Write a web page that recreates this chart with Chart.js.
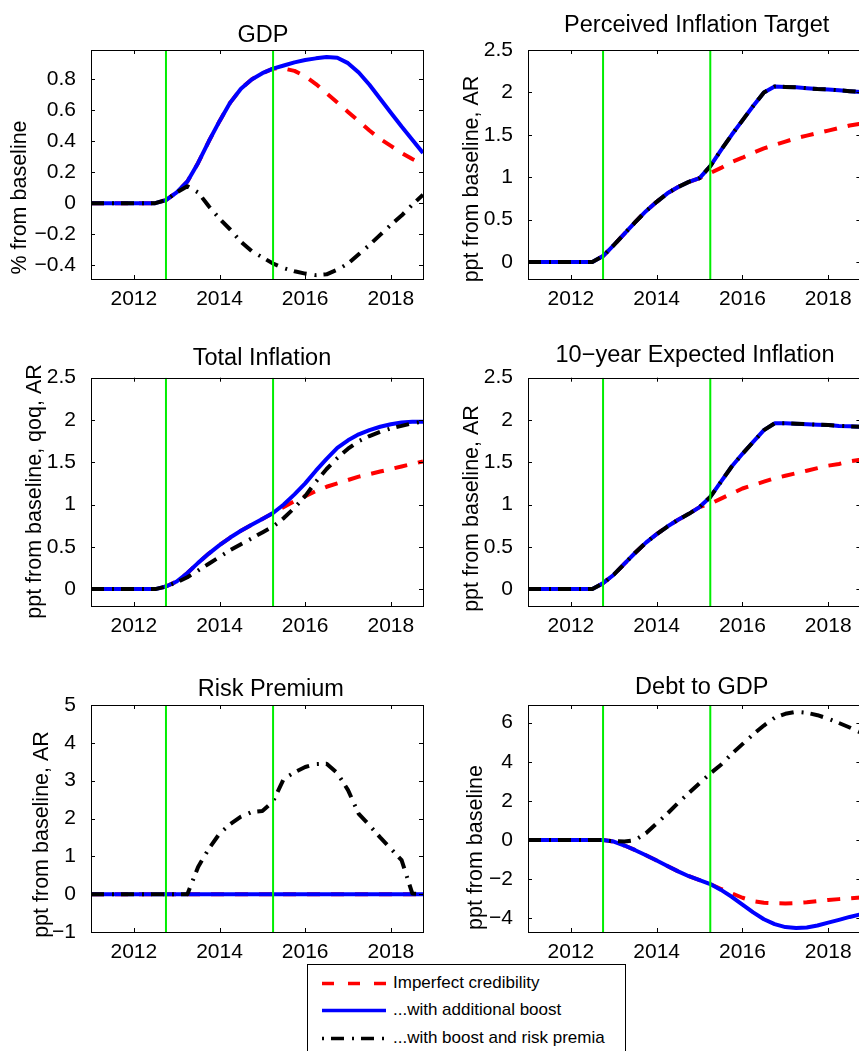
<!DOCTYPE html>
<html>
<head>
<meta charset="utf-8">
<title>Credibility scenarios</title>
<script src="https://cdn.jsdelivr.net/npm/chart.js@4.4.1/dist/chart.umd.min.js"></script>
<style>
    html, body { margin: 0; padding: 0; background: #fff; }
    body { width: 859px; height: 1051px; position: relative; overflow: hidden; font-family: "Liberation Sans", Arial, sans-serif; }
    canvas.panel { position: absolute; }
    #legend { position: absolute; left: 307px; top: 964px; width: 319px; height: 100px; box-sizing: border-box; border: 1px solid #000; background: #fff; }
    #legend .item { position: absolute; left: 13px; height: 20px; line-height: 20px; font-size: 17px; color: #000; white-space: nowrap; }
    #legend svg { position: absolute; left: 0; top: 8px; }
    #legend span { position: absolute; left: 72px; top: 0; }
</style>
</head>
<body>

<canvas class="panel" id="gdp"></canvas>
<canvas class="panel" id="target"></canvas>
<canvas class="panel" id="inflation"></canvas>
<canvas class="panel" id="expected"></canvas>
<canvas class="panel" id="risk"></canvas>
<canvas class="panel" id="debt"></canvas>

<div id="legend">
    <div class="item" style="top:8px">
        <svg width="66" height="5"><line x1="1" y1="2.5" x2="65" y2="2.5" stroke="#ff0000" stroke-width="3.5" stroke-dasharray="12 14"/></svg>
        <span>Imperfect credibility</span>
    </div>
    <div class="item" style="top:35px">
        <svg width="66" height="5"><line x1="1" y1="2.5" x2="65" y2="2.5" stroke="#0000ff" stroke-width="3.5"/></svg>
        <span>...with additional boost</span>
    </div>
    <div class="item" style="top:63px">
        <svg width="66" height="5"><line x1="1" y1="2.5" x2="65" y2="2.5" stroke="#000" stroke-width="3.5" stroke-dasharray="2 7 13 8"/></svg>
        <span>...with boost and risk premia</span>
    </div>
</div>

<script>
// ---- data (quarterly) ----
const quarters = [2011, 2011.25, 2011.5, 2011.75, 2012, 2012.25, 2012.5, 2012.75,
    2013, 2013.25, 2013.5, 2013.75, 2014, 2014.25, 2014.5, 2014.75,
    2015, 2015.25, 2015.5, 2015.75, 2016, 2016.25, 2016.5, 2016.75,
    2017, 2017.25, 2017.5, 2017.75, 2018, 2018.25, 2018.5, 2018.75];
const yearTicks = [2012, 2014, 2016, 2018];
const eventDates = [2012.75, 2015.25];
const seriesNames = ['Imperfect credibility', '...with additional boost', '...with boost and risk premia'];

// GDP, % from baseline
const gdpImperfect = [0, 0, 0, 0, 0, 0, 0, 0.02, 0.07, 0.14, 0.26, 0.40, 0.53, 0.65, 0.74, 0.80,
    0.84, 0.87, 0.87, 0.855, 0.82, 0.77, 0.71, 0.65, 0.59, 0.53, 0.47, 0.415, 0.37, 0.325, 0.285, 0.25];
const gdpBoost = [0, 0, 0, 0, 0, 0, 0, 0.02, 0.07, 0.14, 0.26, 0.40, 0.53, 0.65, 0.74, 0.80,
    0.84, 0.87, 0.89, 0.91, 0.925, 0.936, 0.945, 0.94, 0.905, 0.845, 0.765, 0.675, 0.585, 0.495, 0.41, 0.325];
const gdpRisk = [0, 0, 0, 0, 0, 0, 0, 0.02, 0.07, 0.11, 0.07, -0.02, -0.10, -0.17, -0.25, -0.31,
    -0.35, -0.39, -0.42, -0.44, -0.455, -0.465, -0.46, -0.43, -0.39, -0.33, -0.27, -0.205, -0.14, -0.08, -0.01, 0.055];

// Perceived inflation target
const targetImperfect = [0, 0, 0, 0, 0, 0, 0, 0.07, 0.20, 0.335, 0.47, 0.60, 0.71, 0.81, 0.885, 0.945,
    0.99, 1.05, 1.11, 1.18, 1.23, 1.29, 1.34, 1.38, 1.42, 1.46, 1.49, 1.52, 1.55, 1.58, 1.61, 1.63];
const targetBoost = [0, 0, 0, 0, 0, 0, 0, 0.07, 0.20, 0.335, 0.47, 0.60, 0.71, 0.81, 0.885, 0.945,
    0.99, 1.13, 1.32, 1.50, 1.67, 1.84, 2.0, 2.07, 2.065, 2.06, 2.05, 2.04, 2.035, 2.025, 2.015, 2.005];
const targetRisk = [0, 0, 0, 0, 0, 0, 0, 0.07, 0.20, 0.335, 0.47, 0.60, 0.71, 0.81, 0.885, 0.945,
    0.99, 1.13, 1.32, 1.50, 1.67, 1.84, 2.0, 2.07, 2.065, 2.06, 2.05, 2.04, 2.035, 2.025, 2.015, 2.005];

// Total inflation, qoq AR
const inflImperfect = [0, 0, 0, 0, 0, 0, 0, 0.03, 0.09, 0.19, 0.31, 0.42, 0.52, 0.61, 0.69, 0.76,
    0.83, 0.90, 0.97, 1.04, 1.10, 1.16, 1.21, 1.25, 1.29, 1.33, 1.36, 1.39, 1.42, 1.45, 1.48, 1.51];
const inflBoost = [0, 0, 0, 0, 0, 0, 0, 0.03, 0.09, 0.19, 0.31, 0.42, 0.52, 0.61, 0.69, 0.76,
    0.83, 0.90, 1.00, 1.12, 1.25, 1.40, 1.54, 1.67, 1.76, 1.83, 1.88, 1.92, 1.95, 1.97, 1.98, 1.98];
const inflRisk = [0, 0, 0, 0, 0, 0, 0, 0.03, 0.08, 0.14, 0.22, 0.30, 0.38, 0.46, 0.53, 0.60,
    0.67, 0.74, 0.84, 0.96, 1.10, 1.27, 1.42, 1.55, 1.66, 1.75, 1.81, 1.86, 1.90, 1.93, 1.96, 1.98];

// 10-year expected inflation
const expImperfect = [0, 0, 0, 0, 0, 0, 0, 0.07, 0.17, 0.30, 0.43, 0.55, 0.65, 0.74, 0.82, 0.89,
    0.97, 1.01, 1.07, 1.13, 1.19, 1.23, 1.27, 1.31, 1.34, 1.37, 1.40, 1.43, 1.46, 1.48, 1.51, 1.53];
const expBoost = [0, 0, 0, 0, 0, 0, 0, 0.07, 0.17, 0.30, 0.43, 0.55, 0.65, 0.74, 0.82, 0.89,
    0.97, 1.09, 1.27, 1.45, 1.60, 1.74, 1.88, 1.96, 1.96, 1.955, 1.95, 1.945, 1.94, 1.93, 1.925, 1.92];
const expRisk = [0, 0, 0, 0, 0, 0, 0, 0.07, 0.17, 0.30, 0.43, 0.55, 0.65, 0.74, 0.82, 0.89,
    0.97, 1.09, 1.27, 1.45, 1.60, 1.74, 1.88, 1.96, 1.96, 1.955, 1.95, 1.945, 1.94, 1.93, 1.925, 1.92];

// Risk premium
const riskImperfect = [0, 0, 0, 0, 0, 0, 0, 0, 0, 0, 0, 0, 0, 0, 0, 0,
    0, 0, 0, 0, 0, 0, 0, 0, 0, 0, 0, 0, 0, 0, 0, 0];
const riskBoost = [0, 0, 0, 0, 0, 0, 0, 0, 0, 0, 0, 0, 0, 0, 0, 0,
    0, 0, 0, 0, 0, 0, 0, 0, 0, 0, 0, 0, 0, 0, 0, 0];
const riskRisk = [0, 0, 0, 0, 0, 0, 0, 0, 0, 0, 0.72, 1.2, 1.6, 1.85, 2.05, 2.17,
    2.2, 2.45, 3.05, 3.22, 3.36, 3.44, 3.45, 3.2, 2.75, 2.12, 1.82, 1.5, 1.2, 0.9, 0.02, 0];

// Debt to GDP
const debtImperfect = [0, 0, 0, 0, 0, 0, 0, 0, -0.08, -0.28, -0.52, -0.78, -1.05, -1.33, -1.6, -1.85,
    -2.05, -2.25, -2.5, -2.72, -2.95, -3.12, -3.2, -3.23, -3.24, -3.22, -3.18, -3.12, -3.06, -3.02, -2.98, -2.94];
const debtBoost = [0, 0, 0, 0, 0, 0, 0, 0, -0.08, -0.28, -0.52, -0.78, -1.05, -1.33, -1.6, -1.85,
    -2.05, -2.25, -2.55, -2.9, -3.3, -3.7, -4.05, -4.3, -4.45, -4.5, -4.47, -4.37, -4.22, -4.08, -3.93, -3.8];
const debtRisk = [0, 0, 0, 0, 0, 0, 0, 0, -0.06, -0.08, 0.0, 0.35, 0.85, 1.35, 1.9, 2.4,
    2.9, 3.4, 3.85, 4.4, 4.9, 5.4, 5.85, 6.25, 6.45, 6.55, 6.5, 6.38, 6.2, 5.98, 5.75, 5.5];

// y axes
const gdpTicks = [-0.4, -0.2, 0, 0.2, 0.4, 0.6, 0.8];
const inflTicks = [0, 0.5, 1, 1.5, 2, 2.5];
const riskTicks = [-1, 0, 1, 2, 3, 4, 5];
const debtTicks = [-4, -2, 0, 2, 4, 6];

const panels = [
    { id: 'gdp', title: 'GDP', ylabel: '% from baseline', min: -0.49, max: 0.99, ticks: gdpTicks,
      series: [gdpImperfect, gdpBoost, gdpRisk] },
    { id: 'target', title: 'Perceived Inflation Target', ylabel: 'ppt from baseline, AR', min: -0.2, max: 2.5, ticks: inflTicks,
      series: [targetImperfect, targetBoost, targetRisk] },
    { id: 'inflation', title: 'Total Inflation', ylabel: 'ppt from baseline, qoq, AR', min: -0.2, max: 2.5, ticks: inflTicks,
      series: [inflImperfect, inflBoost, inflRisk] },
    { id: 'expected', title: '10\u2212year Expected Inflation', ylabel: 'ppt from baseline, AR', min: -0.2, max: 2.5, ticks: inflTicks,
      series: [expImperfect, expBoost, expRisk] },
    { id: 'risk', title: 'Risk Premium', ylabel: 'ppt from baseline, AR', min: -1, max: 5, ticks: riskTicks,
      series: [riskImperfect, riskBoost, riskRisk] },
    { id: 'debt', title: 'Debt to GDP', ylabel: 'ppt from baseline', min: -4.7, max: 6.9, ticks: debtTicks,
      series: [debtImperfect, debtBoost, debtRisk] }
];

// ---- layout (page pixels) ----
const cols = [
    { x: 0, w: 430, plotLeft: 91, plotRight: 423 },
    { x: 430, w: 440, plotLeft: 98, plotRight: 430.4 }
];
const rows = [
    { y: 0, h: 320, plotTop: 50, plotBottom: 279 },
    { y: 320, h: 330, plotTop: 57.7, plotBottom: 286 },
    { y: 660, h: 320, plotTop: 45, plotBottom: 272 }
];
// title baseline + ylabel centre, page coords
const labelPos = {
    gdp:       { tx: 263,   ty: 41.5,  lx: 20.5,  ly: 197.5 },
    target:    { tx: 696.7, ty: 31.5,  lx: 472.5, ly: 179 },
    inflation: { tx: 262,   ty: 365,   lx: 35,    ly: 491.5 },
    expected:  { tx: 695,   ty: 361.5, lx: 472.5, ly: 508.5 },
    risk:      { tx: 270.8, ty: 696,   lx: 41.7,  ly: 834.5 },
    debt:      { tx: 701.7, ty: 694,   lx: 476,   ly: 847.5 }
};

const FONT = '"Liberation Sans", Arial, sans-serif';
const styles = [
    { color: '#ff0000', dash: [13, 11], order: 3 },
    { color: '#0000ff', dash: [], order: 2 },
    { color: '#000000', dash: [13, 8, 2, 7], order: 1 }
];

function fmtTick(v) {
    const s = String(Math.round(v * 100) / 100);
    return s.replace('-', '\u2212');
}

// MATLAB-ish box, inward ticks, title and rotated y label
const matlabAxes = {
    id: 'matlabAxes',
    afterDatasetsDraw(chart, args, opts) {
        const { ctx, chartArea: a, scales } = chart;
        ctx.save();
        ctx.strokeStyle = '#000';
        ctx.lineWidth = 1;
        ctx.beginPath();
        scales.x.ticks.forEach(t => {
            const px = Math.round(scales.x.getPixelForValue(t.value)) + 0.5;
            ctx.moveTo(px, a.bottom); ctx.lineTo(px, a.bottom - 4);
            ctx.moveTo(px, a.top); ctx.lineTo(px, a.top + 4);
        });
        scales.y.ticks.forEach(t => {
            const py = Math.round(scales.y.getPixelForValue(t.value)) + 0.5;
            ctx.moveTo(a.left, py); ctx.lineTo(a.left + 4, py);
            ctx.moveTo(a.right, py); ctx.lineTo(a.right - 4, py);
        });
        ctx.stroke();
        ctx.strokeRect(Math.round(a.left) + 0.5, Math.round(a.top) + 0.5,
            Math.round(a.right - a.left), Math.round(a.bottom - a.top));
        ctx.restore();
    },
    afterDraw(chart, args, opts) {
        const ctx = chart.ctx;
        ctx.save();
        ctx.fillStyle = '#000';
        ctx.font = '23.5px ' + FONT;
        ctx.textAlign = 'center';
        ctx.textBaseline = 'alphabetic';
        ctx.fillText(opts.title, opts.tx, opts.ty);

        ctx.font = '21.5px ' + FONT;
        ctx.translate(opts.lx, opts.ly);
        ctx.rotate(-Math.PI / 2);
        ctx.textBaseline = 'middle';
        ctx.fillText(opts.ylabel, 0, 0);
        ctx.restore();
    }
};

panels.forEach((p, i) => {
    const col = cols[i % 2];
    const row = rows[Math.floor(i / 2)];
    const pos = labelPos[p.id];
    const canvas = document.getElementById(p.id);
    canvas.width = col.w;
    canvas.height = row.h;
    canvas.style.left = col.x + 'px';
    canvas.style.top = row.y + 'px';

    const datasets = p.series.map((values, k) => ({
        label: seriesNames[k],
        data: quarters.map((q, j) => ({ x: q, y: values[j] })),
        borderColor: styles[k].color,
        borderWidth: 4,
        borderDash: styles[k].dash,
        borderCapStyle: 'butt',
        borderJoinStyle: 'round',
        pointRadius: 0,
        tension: 0,
        fill: false,
        order: styles[k].order
    }));
    eventDates.forEach(d => {
        datasets.push({
            label: 'event',
            data: [{ x: d, y: p.min }, { x: d, y: p.max }],
            borderColor: '#00ee00',
            borderWidth: 2,
            pointRadius: 0,
            fill: false,
            order: 0
        });
    });

    new Chart(canvas, {
        type: 'line',
        data: { datasets: datasets },
        plugins: [matlabAxes],
        options: {
            responsive: false,
            animation: false,
            events: [],
            devicePixelRatio: 1,
            layout: { padding: { top: row.plotTop, right: col.w - col.plotRight, bottom: 0, left: 0 } },
            plugins: {
                legend: { display: false },
                tooltip: { enabled: false },
                matlabAxes: {
                    title: p.title, ylabel: p.ylabel,
                    tx: pos.tx - col.x, ty: pos.ty - row.y,
                    lx: pos.lx - col.x, ly: pos.ly - row.y
                }
            },
            scales: {
                x: {
                    type: 'linear',
                    min: 2011,
                    max: 2018.75,
                    grid: { display: false },
                    border: { display: false },
                    afterBuildTicks: s => { s.ticks = yearTicks.map(v => ({ value: v })); },
                    afterFit: s => { s.height = row.h - row.plotBottom; },
                    ticks: {
                        color: '#000',
                        font: { family: FONT, size: 21 },
                        padding: 0,
                        maxRotation: 0,
                        autoSkip: false,
                        callback: v => String(v)
                    }
                },
                y: {
                    type: 'linear',
                    min: p.min,
                    max: p.max,
                    grid: { display: false },
                    border: { display: false },
                    afterBuildTicks: s => { s.ticks = p.ticks.map(v => ({ value: v })); },
                    afterFit: s => { s.width = col.plotLeft; },
                    ticks: {
                        color: '#000',
                        font: { family: FONT, size: 21 },
                        padding: 7,
                        autoSkip: false,
                        callback: v => fmtTick(v)
                    }
                }
            }
        }
    });
});
</script>
</body>
</html>
